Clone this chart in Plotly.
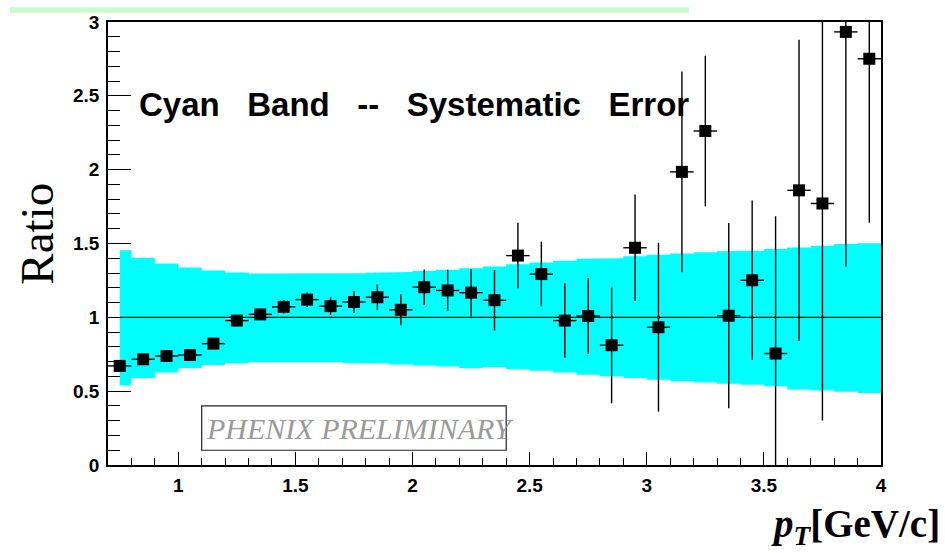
import numpy as np
import plotly.graph_objects as go

# ---- data ----
pt = [0.75, 0.85, 0.95, 1.05, 1.15, 1.25, 1.35, 1.45, 1.55, 1.65, 1.75, 1.85, 1.95,
      2.05, 2.15, 2.25, 2.35, 2.45, 2.55, 2.65, 2.75, 2.85, 2.95, 3.05, 3.15, 3.25,
      3.35, 3.45, 3.55, 3.65, 3.75, 3.85, 3.95]
ratio = [0.671, 0.716, 0.738, 0.745, 0.822, 0.978, 1.02, 1.071, 1.12, 1.076, 1.104, 1.136, 1.051,
         1.204, 1.182, 1.167, 1.116, 1.418, 1.293, 0.978, 1.009, 0.811, 1.471, 0.933, 1.985, 2.262,
         1.011, 1.251, 0.755, 1.86, 1.771, 2.933, 2.751]
ratio_err = [0.015, 0.015, 0.018, 0.02, 0.022, 0.025, 0.03, 0.044, 0.05, 0.06, 0.075, 0.087, 0.105,
             0.12, 0.14, 0.16, 0.205, 0.222, 0.219, 0.252, 0.258, 0.393, 0.36, 0.572, 0.68, 0.51,
             0.627, 0.54, 0.93, 1.02, 1.47, 1.59, 1.11]
pt_halfwidth = [0.05] * len(pt)

# systematic band (step edges and upper/lower values per segment)
band_edges = [0.75, 0.8, 0.9, 1.0, 1.1, 1.2, 1.3, 1.4, 1.5, 1.6, 1.7, 1.8, 1.9, 2.0, 2.1, 2.2,
              2.3, 2.4, 2.5, 2.6, 2.7, 2.8, 2.9, 3.0, 3.1, 3.2, 3.3, 3.4, 3.5, 3.6, 3.7, 3.8,
              3.9, 4.0]
band_upper = [1.455, 1.404, 1.364, 1.338, 1.318, 1.304, 1.296, 1.293, 1.293, 1.296, 1.298, 1.302,
              1.307, 1.313, 1.322, 1.333, 1.344, 1.36, 1.371, 1.384, 1.396, 1.40, 1.413, 1.424,
              1.433, 1.44, 1.447, 1.451, 1.462, 1.473, 1.484, 1.496, 1.502]
band_lower = [0.538, 0.589, 0.627, 0.656, 0.678, 0.689, 0.696, 0.698, 0.698, 0.696, 0.69, 0.687,
              0.68, 0.673, 0.667, 0.656, 0.662, 0.649, 0.638, 0.627, 0.611, 0.60, 0.589, 0.578,
              0.567, 0.558, 0.551, 0.544, 0.533, 0.511, 0.504, 0.496, 0.487]
ref_value = 1.0
x_range = [0.7, 4.0]
y_range = [0, 3]

# ---- build step polygon for band ----
e = np.array(band_edges)
up = np.array(band_upper)
lo = np.array(band_lower)
ux = np.repeat(e, 2)[1:-1]
uy = np.repeat(up, 2)
lx = ux[::-1]
ly = np.repeat(lo, 2)[::-1]
poly_x = np.concatenate([ux, lx, ux[:1]])
poly_y = np.concatenate([uy, ly, uy[:1]])

fig = go.Figure()
fig.add_trace(go.Scatter(x=poly_x, y=poly_y, mode="lines", fill="toself",
                         fillcolor="#00FFFF", line=dict(width=0), hoverinfo="skip",
                         showlegend=False))
fig.add_trace(go.Scatter(x=[band_edges[0], band_edges[-1]], y=[ref_value, ref_value],
                         mode="lines", line=dict(color="black", width=1.3), showlegend=False))
fig.add_trace(go.Scatter(
    x=pt, y=ratio, mode="markers",
    marker=dict(symbol="square", size=12, color="black"),
    error_y=dict(type="data", array=ratio_err, color="black", thickness=1.4, width=0),
    error_x=dict(type="data", array=pt_halfwidth, color="black", thickness=1.4, width=0),
    showlegend=False))

L, R, T, B = 108, 881, 15, 465
W, H = 945, 553
pw, ph = R - L, B - T

def px(xp):
    return (xp - L) / pw

def py(yp):
    return (B - yp) / ph

tickfont = dict(family="Liberation Sans, Arial", size=19, color="black", weight=700)
fig.update_xaxes(range=x_range, showline=True, linecolor="black", linewidth=1.5, mirror=True,
                 ticks="inside", ticklen=13, tickwidth=1.3, tickcolor="black",
                 tick0=0, dtick=0.5, showgrid=False, zeroline=False,
                 minor=dict(ticks="inside", ticklen=7, dtick=0.1, tickwidth=1.3,
                            tickcolor="black", showgrid=False),
                 tickfont=tickfont, ticklabelstandoff=2)
fig.update_yaxes(range=y_range, showline=True, linecolor="black", linewidth=1.5, mirror=True,
                 ticks="inside", ticklen=23, tickwidth=1.3, tickcolor="black",
                 tick0=0, dtick=0.5, showgrid=False, zeroline=False,
                 minor=dict(ticks="inside", ticklen=12, dtick=0.1, tickwidth=1.3,
                            tickcolor="black", showgrid=False),
                 tickfont=tickfont, ticklabelstandoff=3)

shapes = [
    dict(type="rect", xref="paper", yref="paper", x0=px(10), x1=px(689), y0=py(5.5), y1=py(0),
         fillcolor="#cdfacd", line=dict(width=0), layer="above"),
    dict(type="rect", xref="x", yref="y", x0=1.1, x1=2.4, y0=0.1, y1=0.4,
         fillcolor="white", line=dict(color="#222222", width=1.2), layer="above"),
]

annotations = [
    dict(text="Cyan\u00a0\u00a0\u00a0Band\u00a0\u00a0\u00a0--\u00a0\u00a0\u00a0Systematic\u00a0\u00a0\u00a0Error",
         xref="paper", yref="paper", x=px(137), y=py(99), xanchor="left", yanchor="middle",
         showarrow=False, font=dict(family="Liberation Sans, Arial", size=33, color="black", weight=700)),
    dict(text="<i>PHENIX PRELIMINARY</i>", xref="paper", yref="paper", x=px(360), y=py(428),
         xanchor="center", yanchor="middle", showarrow=False,
         font=dict(family="Liberation Serif, Times New Roman", size=30, color="#9a9a9a")),
    dict(text="Ratio", xref="paper", yref="paper", x=px(37), y=py(230), xanchor="center",
         yanchor="middle", textangle=-90, showarrow=False,
         font=dict(family="Liberation Serif, Times New Roman", size=47, color="black")),
    dict(text="<b><i>p</i><sub><i>T</i></sub>[GeV/c]</b>", xref="paper", yref="paper",
         x=px(942), y=py(527), xanchor="right", yanchor="middle", showarrow=False,
         font=dict(family="Liberation Serif, Times New Roman", size=39, color="black")),
]

fig.update_layout(width=W, height=H, margin=dict(l=L, r=W - R, t=T, b=H - B),
                  paper_bgcolor="white", plot_bgcolor="white",
                  shapes=shapes, annotations=annotations, showlegend=False)

fig.write_html("out.html")
